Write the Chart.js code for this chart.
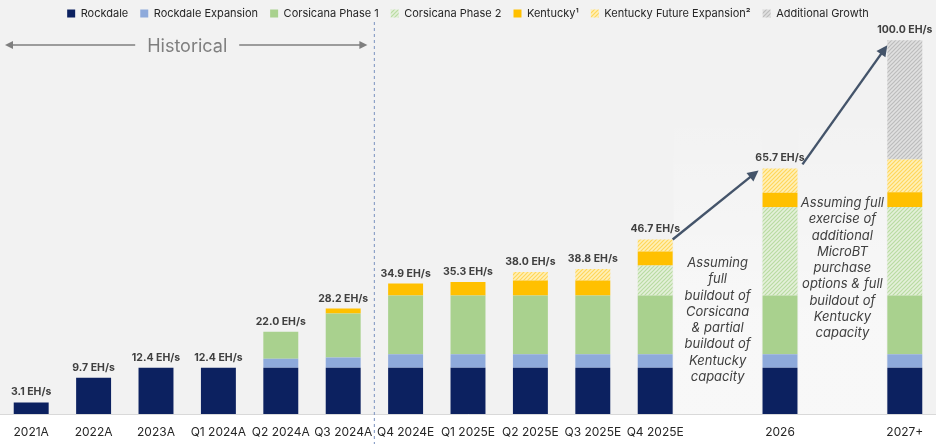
<!DOCTYPE html>
<html>
<head>
<meta charset="utf-8">
<script src="https://cdn.jsdelivr.net/npm/chart.js@4/dist/chart.umd.min.js"></script>
<style>
  html, body { margin:0; padding:0; background:#fff; }
  #wrap { width:936px; height:444px; position:relative; }
</style>
</head>
<body>
<div id="wrap"><canvas id="chart"></canvas></div>
<script>
const categories = ['2021A','2022A','2023A','Q1 2024A','Q2 2024A','Q3 2024A','Q4 2024E','Q1 2025E','Q2 2025E','Q3 2025E','Q4 2025E','','2026','','2027+'];

const rockdale       = [3.1, 9.7, 12.4, 12.4, 12.4, 12.4, 12.4, 12.4, 12.4, 12.4, 12.4, null, 12.4, null, 12.4];
const rockdaleExp    = [null, null, null, null, 2.4, 2.7, 3.6, 3.6, 3.6, 3.6, 3.6, null, 3.6, null, 3.6];
const corsicana1     = [null, null, null, null, 7.2, 11.8, 15.7, 15.7, 15.7, 15.7, 15.7, null, 15.7, null, 15.7];
const corsicana2     = [null, null, null, null, null, null, null, null, null, null, 8.0, null, 23.6, null, 23.7];
const kentucky       = [null, null, null, null, null, 1.3, 3.2, 3.6, 4.0, 4.0, 3.8, null, 3.9, null, 3.9];
const kentuckyFuture = [null, null, null, null, null, null, null, null, 2.3, 3.1, 3.2, null, 6.5, null, 8.8];
const additional     = [null, null, null, null, null, null, null, null, null, null, null, null, null, null, 31.9];

const totals      = [3.1, 9.7, 12.4, 12.4, 22.0, 28.2, 34.9, 35.3, 38.0, 38.8, 46.7, null, 65.7, null, 100.0];
const totalLabels = totals.map(v => v === null ? '' : v.toFixed(1) + ' EH/s');

const noteA = ['Assuming','full','buildout of','Corsicana','& partial','buildout of','Kentucky','capacity'];
const noteB = ['Assuming full','exercise of','additional','MicroBT','purchase','options & full','buildout of','Kentucky','capacity'];

const FONT = 'Inter, "Open Sans", sans-serif';

function hatch(bg, fg){
    const c = document.createElement('canvas');
    c.width = 4; c.height = 4;
    const g = c.getContext('2d');
    g.fillStyle = bg; g.fillRect(0,0,4,4);
    g.strokeStyle = fg; g.lineWidth = 1.2;
    g.beginPath();
    g.moveTo(0,4); g.lineTo(4,0);
    g.moveTo(-1,1); g.lineTo(1,-1);
    g.moveTo(3,5); g.lineTo(5,3);
    g.stroke();
    return g.createPattern(c,'repeat');
}

const ctx = document.getElementById('chart').getContext('2d');

const greenHatch = hatch('#e4f0da', '#b9dba2');
const yellowHatch = hatch('#fff0b8', '#ffd65a');
const grayHatch = hatch('#e0e0e0', '#bcbcbc');

const datasets = [
    { label:'Rockdale', data:rockdale, backgroundColor:'#0c2160' },
    { label:'Rockdale Expansion', data:rockdaleExp, backgroundColor:'#8eaadb' },
    { label:'Corsicana Phase 1', data:corsicana1, backgroundColor:'#a9d18e' },
    { label:'Corsicana Phase 2', data:corsicana2, backgroundColor:greenHatch },
    { label:'Kentucky\u00b9', data:kentucky, backgroundColor:'#ffc000' },
    { label:'Kentucky Future Expansion\u00b2', data:kentuckyFuture, backgroundColor:yellowHatch },
    { label:'Additional Growth', data:additional, backgroundColor:grayHatch }
].map(d => Object.assign(d, { borderWidth:0, categoryPercentage:1, barPercentage:0.56 }));

function arrow(c, x1, y1, x2, y2, color, lw, head){
    const a = Math.atan2(y2-y1, x2-x1);
    c.save();
    c.strokeStyle = color; c.fillStyle = color; c.lineWidth = lw;
    c.beginPath();
    c.moveTo(x1,y1);
    c.lineTo(x2 - Math.cos(a)*head*0.8, y2 - Math.sin(a)*head*0.8);
    c.stroke();
    c.beginPath();
    c.moveTo(x2,y2);
    c.lineTo(x2 - head*Math.cos(a) + head*0.5*Math.sin(a), y2 - head*Math.sin(a) - head*0.5*Math.cos(a));
    c.lineTo(x2 - head*Math.cos(a) - head*0.5*Math.sin(a), y2 - head*Math.sin(a) + head*0.5*Math.cos(a));
    c.closePath();
    c.fill();
    c.restore();
}

const decor = {
    id:'decor',
    beforeDraw(chart){
        const c = chart.ctx, a = chart.chartArea, x = chart.scales.x;
        c.save();
        c.fillStyle = '#ffffff';
        c.fillRect(0,0,chart.width,chart.height);
        c.fillStyle = '#f2f2f2';
        c.fillRect(0,0,chart.width,a.bottom);
        // lighter panels behind the notes
        [11,13].forEach(i=>{
            const cx = x.getPixelForValue(i);
            const gr = c.createLinearGradient(0,110,0,320);
            gr.addColorStop(0,'rgba(255,255,255,0)');
            gr.addColorStop(1,'rgba(255,255,255,0.45)');
            c.fillStyle = gr;
            c.fillRect(cx-44, 110, 88, a.bottom-110);
        });
        c.restore();
    },
    afterDatasetsDraw(chart){
        const c = chart.ctx, a = chart.chartArea, x = chart.scales.x, y = chart.scales.y;
        c.save();
        // divider
        const dx = (x.getPixelForValue(5) + x.getPixelForValue(6)) / 2;
        c.strokeStyle = '#8ea2c8'; c.lineWidth = 1.2; c.setLineDash([3,3]);
        c.beginPath(); c.moveTo(dx, 22); c.lineTo(dx, chart.height); c.stroke();
        c.setLineDash([]);

        // historical
        c.font = '18px ' + FONT; c.fillStyle = '#7f7f7f';
        c.textAlign = 'center'; c.textBaseline = 'middle';
        const hx = (a.left + dx) / 2;
        c.fillText('Historical', hx, 47);
        arrow(c, hx-52, 45, a.left+5, 45, '#7f7f7f', 1.3, 8);
        arrow(c, hx+52, 45, dx-7, 45, '#7f7f7f', 1.3, 8);

        // totals
        c.font = 'bold 10.5px ' + FONT; c.fillStyle = '#404040';
        c.textBaseline = 'alphabetic';
        totals.forEach((v,i)=>{
            if (v === null) return;
            c.fillText(totalLabels[i], x.getPixelForValue(i), y.getPixelForValue(v) - 7);
        });

        // growth arrows
        const meta = chart.getDatasetMeta(0);
        const hw = meta.data[10].width / 2;
        arrow(c, x.getPixelForValue(10)+hw, y.getPixelForValue(totals[10]),
                 x.getPixelForValue(12)-hw-4, y.getPixelForValue(totals[12])+2, '#44546a', 2.4, 11);
        arrow(c, x.getPixelForValue(12)+hw+5, y.getPixelForValue(totals[12])-4,
                 x.getPixelForValue(14)-hw, y.getPixelForValue(totals[14])+5, '#44546a', 2.4, 11);

        // notes
        c.font = 'italic 13px ' + FONT; c.fillStyle = '#404040';
        c.textBaseline = 'middle';
        noteA.forEach((t,k)=> c.fillText(t, x.getPixelForValue(11), 263 + k*16.3));
        noteB.forEach((t,k)=> c.fillText(t, x.getPixelForValue(13), 203 + k*16.3));
        c.restore();
    }
};

new Chart(ctx, {
    type:'bar',
    data:{ labels:categories, datasets:datasets },
    plugins:[decor],
    options:{
        responsive:true,
        maintainAspectRatio:false,
        animation:false,
        layout:{ padding:{ left:0, right:0, top:-4, bottom:0 } },
        plugins:{
            legend:{
                position:'top',
                labels:{ boxWidth:8, boxHeight:8, padding:12, color:'#262626', font:{ family:FONT, size:11 } }
            },
            tooltip:{ enabled:false }
        },
        scales:{
            x:{
                stacked:true,
                grid:{ display:false },
                border:{ display:true, color:'#d9d9d9' },
                ticks:{ color:'#262626', padding:3, font:{ family:FONT, size:12 }, autoSkip:false, maxRotation:0 },
                afterFit(scale){ scale.height = 30; }
            },
            y:{
                stacked:true, display:false, min:0, max:103
            }
        }
    }
});
</script>
</body>
</html>
